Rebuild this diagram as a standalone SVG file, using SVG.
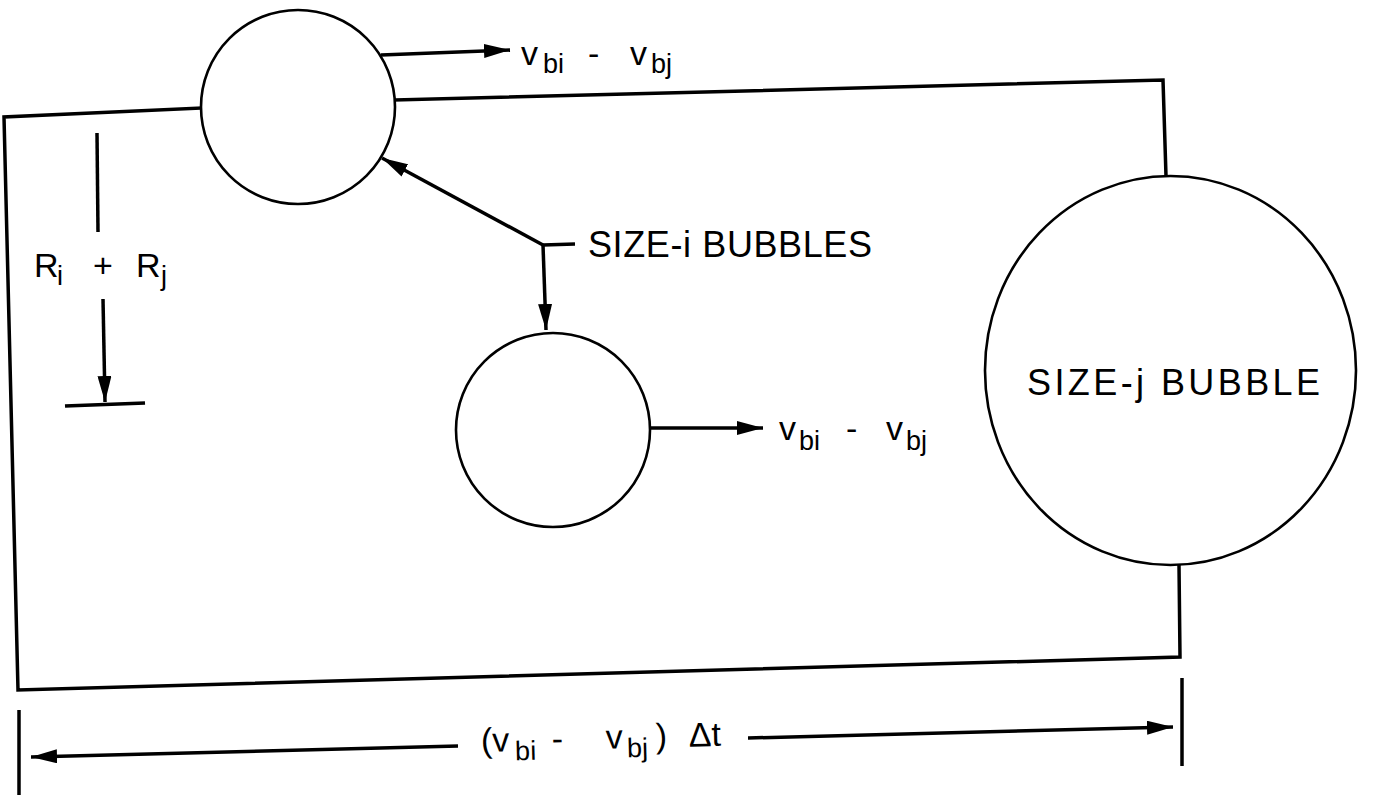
<svg xmlns="http://www.w3.org/2000/svg" width="1373" height="798" viewBox="0 0 1373 798">
<defs>
<marker id="ah" markerUnits="userSpaceOnUse" markerWidth="26" markerHeight="14" viewBox="0 0 26 14" refX="26" refY="7" orient="auto">
<path d="M0,0 L26,7 L0,14 Z" fill="#000"/>
</marker>
<style>
.b{fill:none;stroke:#000;stroke-width:3.5;stroke-linecap:square;stroke-linejoin:miter}
.c{fill:#fff;stroke:#000;stroke-width:2.6}
.a{fill:none;stroke:#000;stroke-width:3.5}
.t{font-family:"Liberation Sans",Arial,sans-serif;fill:#000;font-size:34px}
.s{font-size:27px}
.l{font-family:"Liberation Sans",Arial,sans-serif;fill:#000;font-size:36px}
</style>
</defs>
<rect width="1373" height="798" fill="#fff"/>
<g id="boundary">
<path class="b" d="M201,108 L4,117 L18,690 L1180,657 L1179,565"/>
<path class="b" d="M395,100 L1163,80 L1166,176"/>
</g>
<g id="bubble-i-top">
<circle class="c" cx="298" cy="107" r="97"/>
</g>
<g id="bubble-i-mid">
<circle class="c" cx="553" cy="430" r="97"/>
</g>
<g id="bubble-j">
<ellipse class="c" cx="1170.5" cy="370.5" rx="185.5" ry="194.5"/>
<text class="l" x="1027" y="395" textLength="293" lengthAdjust="spacing">SIZE-j BUBBLE</text>
</g>
<g id="connectors">
<line class="a" x1="381" y1="55" x2="510" y2="50" marker-end="url(#ah)"/>
<line class="a" x1="651" y1="428" x2="763" y2="428" marker-end="url(#ah)"/>
<line class="a" x1="543" y1="245" x2="382" y2="158" marker-end="url(#ah)"/>
<line class="a" x1="543" y1="245" x2="575" y2="244"/>
<line class="a" x1="543" y1="245" x2="546" y2="330" marker-end="url(#ah)"/>
<line class="a" x1="97" y1="133" x2="98" y2="232"/>
<line class="a" x1="103" y1="299" x2="105" y2="402" marker-end="url(#ah)"/>
<line class="a" x1="65" y1="406" x2="145" y2="403"/>
<line class="a" x1="19" y1="710" x2="19" y2="795"/>
<line class="a" x1="1182" y1="678" x2="1182" y2="766"/>
<line class="a" x1="458" y1="746" x2="31" y2="757" marker-end="url(#ah)"/>
<line class="a" x1="748" y1="738" x2="1173" y2="727" marker-end="url(#ah)"/>
</g>
<g id="labels">
<text class="t" y="65"><tspan x="521">v</tspan><tspan class="s" x="543" dy="8">bi</tspan><tspan x="588" dy="-8">-</tspan><tspan x="630">v</tspan><tspan class="s" x="651" dy="8">bj</tspan></text>
<text class="t" y="440"><tspan x="779">v</tspan><tspan class="s" x="799" dy="10">bi</tspan><tspan x="846" dy="-10">-</tspan><tspan x="886">v</tspan><tspan class="s" x="906" dy="10">bj</tspan></text>
<text class="t" y="277" font-size="35"><tspan x="34">R</tspan><tspan class="s" x="57" dy="8">i</tspan><tspan x="93" dy="-8">+</tspan><tspan x="136">R</tspan><tspan class="s" x="161" dy="8">j</tspan></text>
<text class="l" x="588" y="257" font-size="37" textLength="284" lengthAdjust="spacing">SIZE-i BUBBLES</text>
<text class="t" y="749" transform="rotate(-1.5 600 745)"><tspan x="481">(v</tspan><tspan class="s" x="515" dy="9">bi</tspan><tspan x="552" dy="-9">-</tspan><tspan x="606">v</tspan><tspan class="s" x="627" dy="9">bj</tspan><tspan x="656" dy="-9">)</tspan><tspan x="689">Δt</tspan></text>
</g>
</svg>
